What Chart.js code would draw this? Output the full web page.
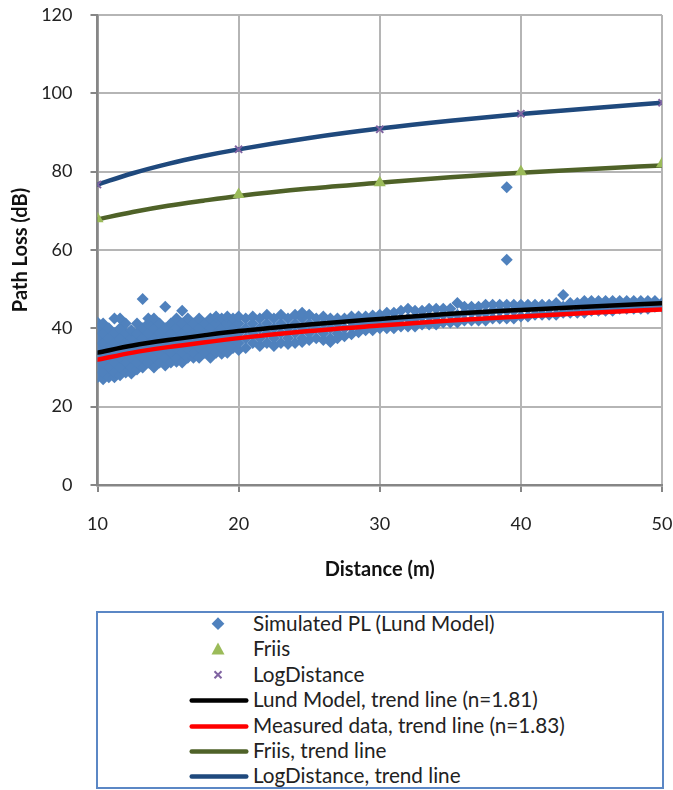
<!DOCTYPE html>
<html lang="en">
<head>
  <meta charset="UTF-8">
  <title>Path Loss vs Distance</title>
  <script src="https://cdn.jsdelivr.net/npm/chart.js"></script>
  <style>
    body {
      margin: 0;
      padding: 0;
      background-color: #ffffff;
      font-family: Lato, sans-serif;
      color: #222;
    }
    #wrap {
      position: relative;
      width: 673px;
      height: 790px;
    }
    #plChart {
      position: absolute;
      left: 0;
      top: 0;
    }
    #legend {
      position: absolute;
      left: 96px;
      top: 611px;
      width: 568px;
      height: 178px;
      box-sizing: border-box;
      border: 2px solid #5b87c5;
    }
    .row {
      position: relative;
      height: 25.4px;
      line-height: 25.4px;
      font-size: 20.7px;
      white-space: nowrap;
    }
    .row svg {
      position: absolute;
      left: 90px;
      top: 0;
    }
    .row span {
      position: absolute;
      left: 155px;
      top: -2px;
    }
  </style>
</head>
<body>
  <div id="wrap">
    <canvas id="plChart" width="673" height="600"></canvas>
    <div id="legend"></div>
  </div>

  <script>
    // Simulated PL (Lund model) samples: distance + path loss values at that distance
    const simDist = [10.0, 10.4, 10.8, 11.2, 11.6, 12.0, 12.4, 12.8, 13.2, 13.6, 14.0, 14.4, 14.8, 15.2,
      15.6, 16.0, 16.4, 16.8, 17.2, 17.6, 18.0, 18.4, 18.8, 19.2, 19.6, 20.0,
      20.5, 21.0, 21.5, 22.0, 22.5, 23.0, 23.5, 24.0, 24.5, 25.0, 25.5, 26.0, 26.5, 27.0, 27.5, 28.0,
      28.5, 29.0, 29.5, 30.0, 30.5, 31.0, 31.5, 32.0, 32.5, 33.0, 33.5, 34.0, 34.5, 35.0, 35.5,
      36.0, 36.5, 37.0, 37.5, 38.0, 38.5, 39.0, 39.5, 40.0, 40.5, 41.0, 41.5, 42.0, 42.5, 43.0,
      43.5, 44.0, 44.5, 45.0, 45.5, 46.0, 46.5, 47.0, 47.5, 48.0, 48.5, 49.0, 49.5, 50.0];
    const simPL = [
      [27.5, 30, 32.5, 35, 37.5, 40, 41.5],
      [27, 28.75, 31.25, 33.75, 36.25, 38.75, 41.25],
      [27.5, 30, 32.5, 35, 37.5, 40],
      [27.5, 28.75, 31.25, 33.75, 36.25, 38.75, 42.5],
      [28, 30, 32.5, 35, 37.5, 40, 42.5],
      [28.75, 31.25, 33.75, 36.25, 38.75, 41.25],
      [28.5, 30, 32.5, 35, 37.5, 39.5],
      [29.5, 31.25, 33.75, 36.25, 38.75, 41.25],
      [30, 32.5, 35, 37.5, 40, 47.5],
      [31.25, 33.75, 36.25, 38.75, 41.25, 42.5],
      [30, 32.5, 35, 37.5, 40, 42.5],
      [31.25, 33.75, 36.25, 38.75, 41.25],
      [30.5, 32.5, 35, 37.5, 40, 45.5],
      [31.25, 33.75, 36.25, 38.75, 41.25],
      [31.5, 32.5, 35, 37.5, 40, 42.5],
      [31.25, 33.75, 36.25, 38.75, 41.25, 44.5],
      [32.5, 35, 37.5, 40, 42.5],
      [32.5, 33.75, 36.25, 38.75, 41.25],
      [32.5, 35, 37.5, 40, 42.5],
      [33.75, 36.25, 38.75, 41.25],
      [32.5, 35, 37.5, 40, 42.5],
      [33.75, 36.25, 38.75, 41.25, 43],
      [33.5, 35, 37.5, 40, 42.5],
      [33.75, 36.25, 38.75, 41.25, 43],
      [35, 37.5, 40, 42.5],
      [34.5, 36.25, 38.75, 41.25, 43],
      [35, 37.5, 40, 42.5],
      [36.25, 38.75, 41.25, 43],
      [35.5, 37.5, 40, 42.5],
      [36.25, 38.75, 41.25, 43.5],
      [35.5, 37.5, 40, 42.5],
      [36.25, 38.75, 41.25, 43.5],
      [36, 37.5, 40, 42.5],
      [36.25, 38.75, 41.25, 43.5],
      [36.5, 37.5, 40, 42.5, 44],
      [37, 38.75, 41.25, 43.5],
      [37.5, 40, 42.5],
      [37, 38.75, 41.25, 43],
      [36.5, 37.5, 40, 42.5],
      [37.5, 38.75, 41.25, 42.5],
      [38, 40, 42.5],
      [38.5, 40.25, 41.75, 43],
      [39, 41, 43], [39.5, 41.25, 43], [39.5, 41.5, 43.25], [40, 41.75, 43.5],
      [40, 42, 44], [40, 42, 44], [40.5, 42.5, 44.5],
      [40.5, 42.5, 45], [40.5, 42.5, 44.5], [41, 43, 44.5], [41, 43, 45], [41, 43, 45],
      [41.5, 43.5, 45], [41.5, 43.5, 45], [41.5, 43.5, 46.5], [42, 44, 45.5], [42, 44, 45.5],
      [42, 44, 45.5], [42, 44, 46], [42.5, 44.5, 46], [42.5, 44.5, 46], [42.5, 44.5, 46, 57.5, 76],
      [42.5, 44.5, 46],
      [43, 45, 46], [43, 45, 46], [43.5, 45, 46], [43.5, 45, 46], [43.5, 45, 46], [43.5, 45.5, 46.5],
      [44, 45.5, 48.5], [44, 45.5, 46.5], [44, 45.5, 46.5], [44, 45.5, 47], [44.5, 46, 47],
      [44.5, 46, 47], [44.5, 46, 47], [44.5, 46, 47], [45, 46, 47], [45, 46, 47],
      [45, 46, 47], [45, 46.5, 47], [45, 46.5, 47], [45.5, 46.5, 47], [45.5, 46.5]
    ];

    // Friis and LogDistance model points
    const modelDist = [10, 20, 30, 40, 50];
    const friisPL = [68, 74.2, 77.2, 80, 82];
    const logDistPL = [76.7, 85.7, 90.8, 94.8, 97.6];

    // trend lines
    const trendDist = [10, 12.5, 15, 17.5, 20, 25, 30, 35, 40, 45, 50];
    const lundTrend = [33.8, 35.6, 37.0, 38.2, 39.3, 41.0, 42.4, 43.7, 44.7, 45.6, 46.4];
    const measTrend = [32.0, 33.8, 35.2, 36.4, 37.5, 39.3, 40.7, 42.0, 43.0, 44.0, 44.8];
    const friisTrend = [67.8, 69.7, 71.3, 72.6, 73.8, 75.7, 77.2, 78.6, 79.7, 80.7, 81.6];
    const logDistTrend = [76.7, 79.6, 82.0, 84.0, 85.7, 88.6, 91.0, 93.0, 94.7, 96.2, 97.6];

    const xTicks = [10, 20, 30, 40, 50];
    const yTicks = [0, 20, 40, 60, 80, 100, 120];

    function toPoints(xs, ys) {
      return xs.map((x, i) => ({ x: x, y: ys[i] }));
    }

    const simPoints = [];
    simDist.forEach((d, i) => {
      simPL[i].forEach(v => simPoints.push({ x: d, y: v }));
    });

    function trendSet(label, ys, color, order) {
      return {
        type: 'line',
        label: label,
        data: toPoints(trendDist, ys),
        borderColor: color,
        backgroundColor: color,
        borderWidth: 4.5,
        pointRadius: 0,
        showLine: true,
        fill: false,
        cubicInterpolationMode: 'monotone',
        borderCapStyle: 'round',
        order: order
      };
    }

    const gridColor = '#b5b5b5';
    const axisColor = '#868686';

    const ctx = document.getElementById('plChart').getContext('2d');
    const plChart = new Chart(ctx, {
      type: 'scatter',
      data: {
        datasets: [
          {
            label: 'Simulated PL (Lund Model)',
            data: simPoints,
            pointStyle: 'rectRot',
            pointRadius: 6,
            backgroundColor: '#4f81bd',
            borderWidth: 0,
            order: 5
          },
          {
            label: 'Friis',
            data: toPoints(modelDist, friisPL),
            pointStyle: 'triangle',
            pointRadius: 7,
            backgroundColor: '#9bbb59',
            borderWidth: 0,
            order: 0
          },
          {
            label: 'LogDistance',
            data: toPoints(modelDist, logDistPL),
            pointStyle: 'crossRot',
            pointRadius: 5,
            borderColor: '#8064a2',
            backgroundColor: '#8064a2',
            borderWidth: 2,
            order: 0
          },
          trendSet('Lund Model, trend line (n=1.81)', lundTrend, '#000000', 1),
          trendSet('Measured data, trend line (n=1.83)', measTrend, '#ff0000', 2),
          trendSet('Friis, trend line', friisTrend, '#4f6228', 2),
          trendSet('LogDistance, trend line', logDistTrend, '#1f497d', 2)
        ]
      },
      options: {
        responsive: false,
        animation: false,
        events: [],
        layout: {
          padding: { top: 15, right: 11, left: 0, bottom: 0 }
        },
        plugins: {
          legend: { display: false },
          tooltip: { enabled: false }
        },
        scales: {
          x: {
            type: 'linear',
            min: 10,
            max: 50,
            afterBuildTicks: axis => { axis.ticks = xTicks.map(v => ({ value: v })); },
            afterFit: axis => {
              axis.height = 115;
              axis.paddingLeft = 0;
              axis.paddingRight = 0;
            },
            grid: {
              color: gridColor,
              lineWidth: 2,
              tickLength: 7,
              tickColor: axisColor,
              tickWidth: 2
            },
            border: { color: axisColor, width: 2.5 },
            ticks: {
              padding: 21,
              color: '#222',
              font: { family: 'Lato', size: 18 }
            },
            title: {
              display: true,
              text: 'Distance (m)',
              color: '#111',
              font: { family: 'Lato', size: 20, weight: 'bold' },
              padding: { top: 0, bottom: 18 }
            }
          },
          y: {
            type: 'linear',
            min: 0,
            max: 120,
            afterBuildTicks: axis => { axis.ticks = yTicks.map(v => ({ value: v })); },
            afterFit: axis => {
              axis.width = 97.5;
              axis.paddingTop = 0;
              axis.paddingBottom = 0;
            },
            grid: {
              color: gridColor,
              lineWidth: 2,
              tickLength: 7,
              tickColor: axisColor,
              tickWidth: 2
            },
            border: { color: axisColor, width: 2.5 },
            ticks: {
              padding: 18,
              color: '#222',
              font: { family: 'Lato', size: 18 }
            },
            title: {
              display: true,
              text: 'Path Loss (dB)',
              color: '#111',
              font: { family: 'Lato', size: 20, weight: 'bold' },
              padding: { top: 9, bottom: 0 }
            }
          }
        }
      }
    });

    // legend box below the chart, same order as the reference
    const legendItems = [
      { text: 'Simulated PL (Lund Model)', mark: '<rect x="25.5" y="6.2" width="9" height="9" fill="#4f81bd" transform="rotate(45 30 10.7)"/>' },
      { text: 'Friis', mark: '<polygon points="30,4.5 36.5,16.5 23.5,16.5" fill="#9bbb59"/>' },
      { text: 'LogDistance', mark: '<path d="M26.5 7.2 L33.5 14.2 M33.5 7.2 L26.5 14.2" stroke="#8064a2" stroke-width="2"/>' },
      { text: 'Lund Model, trend line (n=1.81)', mark: '<line x1="3.7" y1="11.5" x2="58.3" y2="11.5" stroke="#000000" stroke-width="4.5" stroke-linecap="round"/>' },
      { text: 'Measured data, trend line (n=1.83)', mark: '<line x1="3.7" y1="11.5" x2="58.3" y2="11.5" stroke="#ff0000" stroke-width="4.5" stroke-linecap="round"/>' },
      { text: 'Friis, trend line', mark: '<line x1="3.7" y1="11.5" x2="58.3" y2="11.5" stroke="#4f6228" stroke-width="4.5" stroke-linecap="round"/>' },
      { text: 'LogDistance, trend line', mark: '<line x1="3.7" y1="11.5" x2="58.3" y2="11.5" stroke="#1f497d" stroke-width="4.5" stroke-linecap="round"/>' }
    ];

    const legend = document.getElementById('legend');
    legendItems.forEach(item => {
      const row = document.createElement('div');
      row.className = 'row';
      row.innerHTML = '<svg width="62" height="25" viewBox="0 0 62 25">' + item.mark + '</svg><span>' + item.text + '</span>';
      legend.appendChild(row);
    });
  </script>
</body>
</html>
